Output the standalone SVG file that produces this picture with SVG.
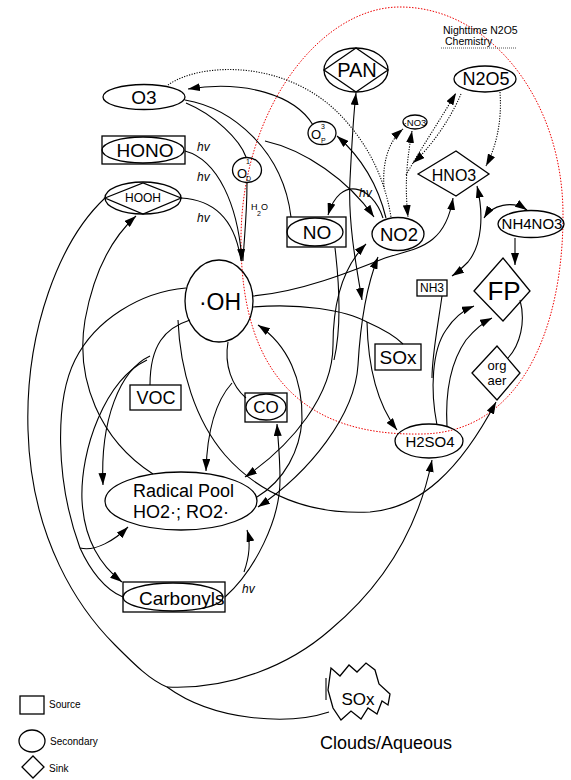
<svg xmlns="http://www.w3.org/2000/svg" width="571" height="780" viewBox="0 0 571 780">
<style>
text{font-family:"Liberation Sans",Arial,sans-serif;fill:#000}
.n{fill:none;stroke:#000;stroke-width:1.3}
.c{fill:none;stroke:#000;stroke-width:1.1}
.d{fill:none;stroke:#000;stroke-width:1.1;stroke-dasharray:1.2 1.4}
.a{marker-end:url(#ah)}
.b{marker-start:url(#ah);marker-end:url(#ah)}
.hv{font-style:italic;font-size:12px}
.m{text-anchor:middle}
</style>
<defs>
<marker id="ah" viewBox="0 0 12 8" refX="12" refY="4" markerWidth="12" markerHeight="8" markerUnits="userSpaceOnUse" orient="auto-start-reverse"><path d="M0,0 L12,4 L0,8 z" fill="#000"/></marker>
</defs>
<rect width="571" height="780" fill="#fff"/>
<path id="nightzone" d="M400,7 C490,7 563,100 563,215 C563,330 520,434 420,434 C300,436 241,370 241,240 C241,110 320,7 400,7 Z" fill="none" stroke="#e00" stroke-width="1" stroke-dasharray="1.5 1.5"/>
<g id="connectors">
<path class="c a" d="M313,125 C295,95 245,80 188,89"/>
<path class="c" d="M185,100 C232,108 283,150 291,217"/>
<path class="c a" d="M265,141 C305,150 348,180 374,217"/>
<path class="c" d="M186,103 C215,115 240,140 246,157"/>
<path class="c a" d="M185,151 C218,160 238,205 242,261"/>
<path class="c" d="M181,198 C218,200 236,225 241,261"/>
<path class="c" d="M247,183 C247,215 244,240 243,261"/>
<path class="c a" d="M383,218 C372,185 340,175 328,215"/>
<path class="c a" d="M386,218 C378,185 362,158 337,136"/>
<path class="c b" d="M362,300 C355,260 348,220 350,180 C352,140 354,110 356,93"/>
<path class="c" d="M253,307 C300,303 345,310 367,322 C385,330 395,336 403,344"/>
<path class="c a" d="M367,322 C368,370 378,405 397,430"/>
<path class="c a" d="M253,296 C300,292 350,272 385,258 C415,248 445,248 453,198"/>
<path class="d" d="M168,85 C200,62 290,58 345,120 C370,148 385,180 391,217"/>
<path class="d a" d="M384,187 C382,160 390,140 403,129"/>
<path class="d b" d="M412,131 C408,155 404,180 408,217"/>
<path class="d a" d="M406,175 C420,150 440,120 456,93"/>
<path class="d a" d="M461,94 C450,120 430,148 413,163"/>
<path class="d a" d="M500,92 C502,120 497,145 486,166"/>
<path class="c b" d="M477,186 C484,215 482,245 468,262 C462,268 458,272 452,276"/>
<path class="c b" d="M484,218 C492,205 512,200 527,210"/>
<path class="c a" d="M515,238 L515,265"/>
<path class="c a" d="M437,425 C430,390 432,350 446,330 C455,316 464,310 474,306"/>
<path class="c a" d="M447,427 C445,390 452,360 466,340 C476,328 484,322 492,318"/>
<path class="c" d="M442,296 C438,325 432,355 432,378"/>
<path class="c" d="M520,300 C526,322 520,345 508,358"/>
<path class="c b" d="M366,244 C342,268 333,305 333,345 C333,395 292,445 245,477"/>
<path class="c b" d="M378,257 C365,290 360,330 358,365 C355,415 310,472 258,507"/>
<path class="c" d="M335,248 C340,290 341,330 334,360"/>
<path class="c a" d="M257,497 C285,480 300,450 302,420 C303,380 288,345 258,325"/>
<path class="c" d="M228,342 C224,365 232,386 246,398"/>
<path class="c a" d="M232,383 C215,402 207,435 206,471"/>
<path class="c" d="M190,320 C165,328 150,345 150,385"/>
<path class="c a" d="M150,356 C120,370 100,420 103,485"/>
<path class="c a" d="M147,360 C105,380 80,450 82,500 C84,540 100,565 122,582"/>
<path class="c a" d="M153,474 C100,440 75,380 85,320 C95,265 115,235 136,216"/>
<path class="c" d="M105,198 C60,240 25,330 28,430 C31,540 80,610 115,645 C135,665 150,680 167,687"/>
<path class="c" d="M329,712 C290,725 215,722 167,687"/>
<path class="c a" d="M167,687 C230,690 290,665 330,630 C390,580 420,520 432,460"/>
<path class="c" d="M186,288 C140,292 95,320 75,360 C55,400 55,480 80,548 C90,570 105,590 123,597"/>
<path class="c a" d="M80,548 C95,552 115,540 128,527"/>
<path class="c a" d="M178,320 C180,370 195,420 225,455 C260,495 310,515 370,512 C420,508 460,470 496,402"/>
<path class="c a" d="M225,597 C255,570 280,520 280,480 C280,455 278,440 277,424"/>
<path class="c a" d="M244,572 C250,555 250,540 247,530"/>
</g>
<g id="labels">
<text class="hv" x="197" y="151">hv</text>
<text class="hv" x="197" y="181">hv</text>
<text class="hv" x="197" y="222">hv</text>
<text class="hv" x="359" y="197">hv</text>
<text class="hv" x="242" y="593">hv</text>
<text x="251" y="210" font-size="9">H</text><text x="257" y="216" font-size="7">2</text><text x="261" y="210" font-size="9">O</text>
<text x="443" y="34" font-size="10.5">Nighttime N2O5</text>
<text x="445" y="45" font-size="10.5">Chemistry</text>
<line x1="441" y1="48" x2="516" y2="48" stroke="#555" stroke-width="1" stroke-dasharray="1 1"/>
</g>
<g id="O3"><ellipse class="n" cx="144" cy="97" rx="41" ry="12.5"/><text class="m" x="144" y="104" font-size="19">O3</text></g>
<g id="HONO"><rect class="n" x="102" y="136" width="83" height="28" stroke-width="1.6"/><ellipse class="n" cx="143" cy="150" rx="41" ry="13"/><text class="m" x="145" y="157" font-size="19">HONO</text></g>
<g id="HOOH"><ellipse class="n" cx="143" cy="198" rx="38" ry="16"/><polygon class="n" points="105,198 143,183 181,198 143,214"/><text class="m" x="143" y="202" font-size="12">HOOH</text></g>
<g id="O1D"><ellipse class="n" cx="247" cy="170" rx="14.5" ry="12.5" stroke-width="1"/><text x="237" y="178" font-size="13">O</text><text x="246" y="164" font-size="7">1</text><text x="246" y="181" font-size="7">D</text></g>
<g id="O3P"><ellipse class="n" cx="322" cy="133" rx="14" ry="11.5" stroke-width="1"/><text x="311" y="139" font-size="13">O</text><text x="321" y="129" font-size="7">3</text><text x="321" y="143" font-size="7">P</text></g>
<g id="PAN"><ellipse class="n" cx="356" cy="70" rx="32" ry="22"/><polygon class="n" points="324,70 356,48 388,70 356,92"/><text class="m" x="357" y="77" font-size="20">PAN</text></g>
<g id="N2O5"><ellipse class="n" cx="485" cy="79" rx="31" ry="13"/><text class="m" x="486" y="85" font-size="18">N2O5</text></g>
<g id="NO3"><ellipse class="n" cx="415" cy="122" rx="12" ry="7" stroke-width="1"/><text class="m" x="415" y="126" font-size="9.5">·NO3</text></g>
<g id="HNO3"><polygon class="n" points="418,174 456,151 489,174 456,196"/><text class="m" x="454" y="181" font-size="16">HNO3</text></g>
<g id="NO"><rect class="n" x="287" y="217" width="59" height="30" stroke-width="1.6"/><ellipse class="n" cx="315" cy="232" rx="28" ry="14"/><text class="m" x="317" y="239" font-size="19">NO</text></g>
<g id="NO2"><ellipse class="n" cx="398" cy="234" rx="26" ry="16.5"/><text class="m" x="399" y="241" font-size="18.5">NO2</text></g>
<g id="NH4NO3"><ellipse class="n" cx="531" cy="224" rx="33" ry="13.5" stroke-width="1"/><text class="m" x="532" y="229" font-size="15" fill="#333">NH4NO3</text></g>
<g id="NH3"><rect class="n" x="417" y="280" width="30" height="16" stroke-width="1"/><text class="m" x="432" y="292" font-size="12">NH3</text></g>
<g id="FP"><polygon class="n" points="474,291 503,258 530,291 503,321"/><text class="m" x="504" y="300" font-size="26">FP</text></g>
<g id="orgaer"><polygon class="n" points="472,373 497,346 520,373 497,400"/><text class="m" x="497" y="370" font-size="13">org</text><text class="m" x="497" y="385" font-size="13">aer</text></g>
<g id="SOx"><rect class="n" x="375" y="344" width="46" height="26" stroke-width="1.5"/><text class="m" x="398" y="364" font-size="19">SOx</text></g>
<g id="H2SO4"><ellipse class="n" cx="429" cy="441" rx="34" ry="17"/><text class="m" x="430" y="447" font-size="15">H2SO4</text></g>
<g id="OH"><ellipse class="n" cx="219" cy="301" rx="34" ry="41" fill="#fff"/><text class="m" x="220" y="310" font-size="23">·OH</text></g>
<g id="VOC"><rect class="n" x="130" y="385" width="51" height="25" stroke-width="1.5"/><text class="m" x="156" y="404" font-size="18">VOC</text></g>
<g id="CO"><rect class="n" x="245" y="393" width="42" height="29" stroke-width="1.6"/><ellipse class="n" cx="266" cy="407" rx="20" ry="13"/><text class="m" x="266" y="413" font-size="17">CO</text></g>
<g id="RadicalPool"><ellipse class="n" cx="181" cy="501" rx="76" ry="29"/><text x="133" y="497" font-size="18">Radical Pool</text><text x="133" y="518" font-size="18">HO2·; RO2·</text></g>
<g id="Carbonyls"><rect class="n" x="123" y="582" width="102" height="30" stroke-width="1.5"/><ellipse class="n" cx="173" cy="597" rx="50" ry="14"/><text x="139" y="605" font-size="19">Carbonyls</text></g>
<g id="Clouds"><path class="n" d="M328,690 L331,668 L340,676 L349,665 L357,672 L366,663 L375,670 L379,684 L390,694 L388,705 L382,701 L377,714 L368,708 L361,719 L351,711 L341,720 L333,708 Z" stroke-width="1"/><path class="c" d="M326,678 L326,700" stroke-width="1"/><text class="m" x="358" y="705" font-size="17">SOx</text><text class="m" x="386" y="749" font-size="18">Clouds/Aqueous</text></g>
<g id="legend">
<rect class="n" x="20" y="696" width="24" height="18" stroke-width="1"/><text x="49" y="708" font-size="10">Source</text>
<ellipse class="n" cx="32" cy="741" rx="13" ry="11" stroke-width="1"/><text x="50" y="745" font-size="10">Secondary</text>
<polygon class="n" points="22,767 33,756 44,767 33,778" stroke-width="1"/><text x="49" y="772" font-size="10">Sink</text>
</g>
</svg>
